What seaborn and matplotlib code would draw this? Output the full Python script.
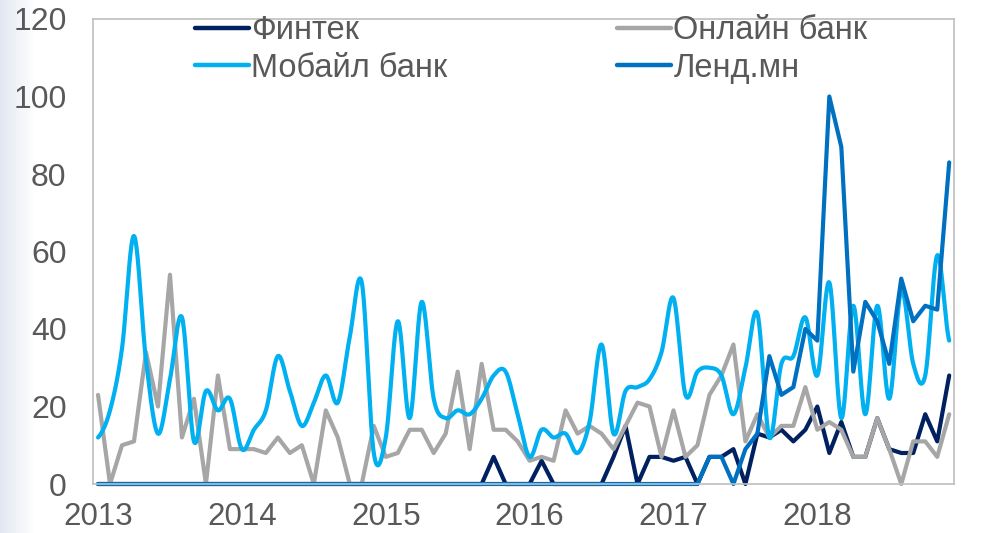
import numpy as np
import pandas as pd
import matplotlib
matplotlib.use('Agg')
import matplotlib.pyplot as plt
from matplotlib.lines import Line2D
import seaborn as sns

# monthly values, Jan 2013 - Dec 2018
fintech = [0, 0, 0, 0, 0, 0, 0, 0, 0, 0, 0, 0,
           0, 0, 0, 0, 0, 0, 0, 0, 0, 0, 0, 0,
           0, 0, 0, 0, 0, 0, 0, 0, 0, 7, 0, 0,
           0, 6, 0, 0, 0, 0, 0, 7, 15, 0, 7, 7,
           6, 7, 0, 7, 7, 9, 0, 13, 12, 14, 11, 14,
           20, 8, 16, 7, 7, 17, 9, 8, 8, 18, 11, 28]
online_bank = [23, 0, 10, 11, 34, 20, 54, 12, 22, 0, 28, 9,
               9, 9, 8, 12, 8, 10, 0, 19, 12, 0, 0, 15,
               7, 8, 14, 14, 8, 13, 29, 9, 31, 14, 14, 11,
               6, 7, 6, 19, 13, 15, 13, 9, 15, 21, 20, 7,
               19, 7, 10, 23, 28, 36, 11, 18, 12, 15, 15, 25,
               14, 16, 14, 7, 7, 17, 9, 0, 11, 11, 7, 18]
mobile_bank = [12, 19, 35, 64, 32, 13, 27, 43, 11, 24, 19, 22,
               9, 14, 19, 33, 24, 15, 21, 28, 21, 38, 52, 8,
               12, 42, 17, 47, 22, 17, 19, 18, 22, 28, 29, 18,
               7, 14, 12, 13, 8, 16, 36, 13, 24, 25, 27, 34,
               48, 23, 29, 30, 28, 18, 30, 44, 12, 31, 33, 43,
               28, 52, 17, 46, 18, 46, 22, 50, 31, 28, 59, 37]
lend_mn = [0, 0, 0, 0, 0, 0, 0, 0, 0, 0, 0, 0,
           0, 0, 0, 0, 0, 0, 0, 0, 0, 0, 0, 0,
           0, 0, 0, 0, 0, 0, 0, 0, 0, 0, 0, 0,
           0, 0, 0, 0, 0, 0, 0, 0, 0, 0, 0, 0,
           0, 0, 0, 7, 7, 0, 9, 13, 33, 23, 25, 40,
           37, 100, 87, 29, 47, 42, 31, 53, 42, 46, 45, 83]

series_names = ['Финтек', 'Онлайн банк', 'Мобайл банк', 'Ленд.мн']
colors = ['#002060', '#A6A6A6', '#00B0F0', '#0070C0']
year_labels = ['2013', '2014', '2015', '2016', '2017', '2018']
y_ticks = [0, 20, 40, 60, 80, 100, 120]

sns.set_theme(style='white')
plt.rcParams['font.family'] = ['Liberation Sans', 'DejaVu Sans']
text_color = '#595959'


def excel_smooth(vals, steps=24):
    # bezier through every point, like the "smoothed line" option in Excel
    v = np.asarray(vals, float)
    pad = np.r_[v[0], v, v[-1]]
    t = np.linspace(0, 1, steps, endpoint=False)
    p0, p1, p2, p3 = pad[:-3], pad[1:-2], pad[2:-1], pad[3:]
    c1 = p1 + (p2 - p0) / 6
    c2 = p2 - (p3 - p1) / 6
    tt = t[:, None]
    seg = (1 - tt)**3 * p1 + 3 * (1 - tt)**2 * tt * c1 + 3 * (1 - tt) * tt**2 * c2 + tt**3 * p2
    ys = np.r_[seg.T.ravel(), v[-1]]
    xs = np.r_[(np.arange(len(v) - 1)[:, None] + t[None, :]).ravel(), len(v) - 1]
    return xs, ys


month = np.arange(len(fintech))

fig = plt.figure(figsize=(9.87, 5.33), dpi=100)

# faint blue-grey band on the left edge
bg = fig.add_axes([0, 0, 0.035, 1], zorder=-5)
bg.imshow(np.linspace(0, 1, 50)[None, :], aspect='auto',
          cmap=matplotlib.colors.LinearSegmentedColormap.from_list('g', ['#E2E7F1', '#FFFFFF']))
bg.set_axis_off()

ax = fig.add_axes([93 / 987, 1 - 484 / 533, (954 - 93) / 987, (484 - 19) / 533])
lw = 3.0
sns.lineplot(x=month, y=fintech, color=colors[0], linewidth=lw, ax=ax, clip_on=False)
sns.lineplot(x=month, y=online_bank, color=colors[1], linewidth=lw, ax=ax, clip_on=False)
xs, ys = excel_smooth(mobile_bank)
sns.lineplot(x=xs, y=ys, color=colors[2], linewidth=lw, ax=ax, estimator=None, clip_on=False)
sns.lineplot(x=month, y=lend_mn, color=colors[3], linewidth=lw, ax=ax, clip_on=False)

ax.set_xlim(-0.42, 71.4)
ax.set_ylim(0, 120)
ax.set_yticks(y_ticks)
ax.set_xticks(np.arange(0, 72, 12))
ax.set_xticklabels(year_labels)
ax.tick_params(axis='y', length=0, pad=19, labelsize=23, labelcolor=text_color)
ax.tick_params(axis='x', length=0, pad=13, labelsize=22.5, labelcolor=text_color)
for s in ax.spines.values():
    s.set_color('#BFBFBF')
    s.set_linewidth(1.2)
ax.grid(False)

handles = [Line2D([], [], color=c, lw=3.2) for c in colors]
leg_kw = dict(frameon=False, fontsize=23.5, handlelength=1.65, handletextpad=0.08,
              labelspacing=0.2, borderpad=0, borderaxespad=0, loc='upper left',
              bbox_transform=fig.transFigure, labelcolor=text_color)
leg1 = ax.legend([handles[0], handles[2]], [series_names[0], series_names[2]],
                 bbox_to_anchor=(195 / 987, 1 - 15 / 533), **leg_kw)
ax.add_artist(leg1)
ax.legend([handles[1], handles[3]], [series_names[1], series_names[3]],
          bbox_to_anchor=(617 / 987, 1 - 15 / 533), **leg_kw)

fig.savefig('out.png', dpi=100)
